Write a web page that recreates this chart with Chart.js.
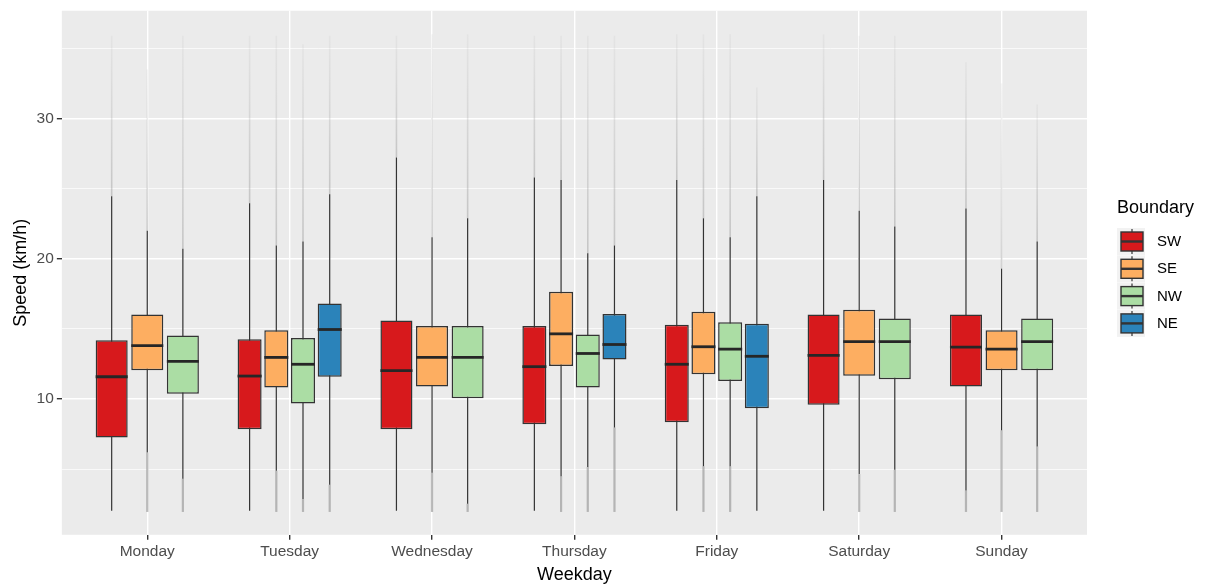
<!DOCTYPE html>
<html>
<head>
<meta charset="utf-8">
<script src="https://cdn.jsdelivr.net/npm/chart.js@4.4.1/dist/chart.umd.min.js"></script>
<style>
  html, body { margin: 0; padding: 0; background: #fff; }
</style>
</head>
<body>
<canvas id="speedChart" width="1206" height="587"></canvas>
<script>
const days = ["Monday", "Tuesday", "Wednesday", "Thursday", "Friday", "Saturday", "Sunday"];
const boundaries = ["SW", "SE", "NW", "NE"];
const fills = ["#D7191C", "#FDAE61", "#ABDDA4", "#2B83BA"];
const yTicks = [5, 10, 15, 20, 25, 30, 35];

// one row per boundary (SW, SE, NW, NE), one column per day; null = no box that day
const q1 = [
    [7.24, 7.83, 7.83, 8.19, 8.34, 9.59, 10.89],
    [12.04, 10.82, 10.89, 12.35, 11.76, 11.66, 12.04],
    [10.36, 9.67, 10.05, 10.82, 11.28, 11.40, 12.04],
    [null, 11.58, null, 12.81, 9.34, null, null]
];
const median = [
    [11.58, 11.63, 12.02, 12.30, 12.47, 13.11, 13.70],
    [13.80, 12.96, 12.96, 14.64, 13.72, 14.08, 13.55],
    [12.68, 12.47, 12.96, 13.24, 13.55, 14.08, 14.08],
    [null, 14.95, null, 13.88, 13.04, null, null]
];
const q3 = [
    [14.18, 14.26, 15.59, 15.20, 15.28, 16.02, 16.02],
    [16.02, 14.90, 15.20, 17.65, 16.22, 16.35, 14.90],
    [14.52, 14.34, 15.20, 14.59, 15.46, 15.74, 15.74],
    [null, 16.81, null, 16.05, 15.36, null, null]
];
const whiskerLow = [
    [2.02, 2.02, 2.02, 2.02, 2.02, 2.02, 3.47],
    [6.17, 4.87, 4.74, 4.49, 5.20, 4.64, 7.76],
    [4.31, 2.86, 2.53, 5.15, 5.20, 4.95, 6.61],
    [null, 3.88, null, 7.96, 2.02, null, null]
];
const whiskerHigh = [
    [24.46, 23.95, 27.22, 25.79, 25.61, 25.61, 23.57],
    [21.99, 20.94, 21.53, 25.61, 22.88, 23.42, 19.29],
    [20.71, 21.22, 22.88, 20.38, 21.53, 22.30, 21.22],
    [null, 24.59, null, 20.94, 24.46, null, null]
];
// range covered by the outlier points below / above the whiskers
const outlierLow = [
    [null, null, null, null, null, null, 1.94],
    [1.94, 1.94, 1.94, 1.94, 1.94, 1.94, 1.94],
    [1.94, 1.94, 1.94, 1.94, 1.94, 1.94, 1.94],
    [null, 1.94, null, 1.94, null, null, null]
];
const outlierHigh = [
    [35.9, 35.9, 35.9, 35.9, 36.0, 36.0, 34.0],
    [33.5, 35.9, 36.0, 35.9, 36.0, 35.9, 32.5],
    [35.9, 35.3, 36.0, 35.9, 36.0, 35.9, 31.0],
    [null, 35.9, null, 35.9, 32.2, null, null]
];

const FONT = "'Liberation Sans', Arial, sans-serif";

const datasets = boundaries.map((name, s) => ({
    label: name,
    data: days.map((d, i) => ({ x: i + 1, y: q1[s][i] === null ? null : [q1[s][i], q3[s][i]] })),
    backgroundColor: fills[s],
    borderColor: "#333333",
    borderWidth: 1.5,
    borderSkipped: false,
    skipNull: true,
    categoryPercentage: 0.75,
    barPercentage: 0.9
}));

function eachBox(chart, fn) {
    chart.data.datasets.forEach((ds, s) => {
        chart.getDatasetMeta(s).data.forEach((bar, i) => {
            if (q1[s][i] !== null) fn(bar, s, i);
        });
    });
}

const boxParts = {
    id: "boxParts",
    beforeDraw(chart) {
        const { ctx, chartArea: a } = chart;
        ctx.save();
        ctx.fillStyle = "#EBEBEB";
        ctx.fillRect(a.left, a.top, a.width, a.height);
        ctx.restore();
    },
    beforeDatasetsDraw(chart) {
        const { ctx } = chart;
        const y = chart.scales.y;
        ctx.save();
        eachBox(chart, (bar, s, i) => {
            // outliers above
            if (outlierHigh[s][i] !== null) {
                const y0 = y.getPixelForValue(whiskerHigh[s][i]), y1 = y.getPixelForValue(outlierHigh[s][i]);
                const g = ctx.createLinearGradient(0, y0, 0, y1);
                g.addColorStop(0, "rgba(140,140,140,0.4)");
                g.addColorStop(1, "rgba(160,160,160,0.1)");
                ctx.strokeStyle = g;
                ctx.lineWidth = 1.6;
                ctx.beginPath();
                ctx.moveTo(bar.x, y0);
                ctx.lineTo(bar.x, y1);
                ctx.stroke();
            }
            // outliers below
            if (outlierLow[s][i] !== null) {
                ctx.strokeStyle = "rgba(150,150,150,0.65)";
                ctx.lineWidth = 2.2;
                ctx.beginPath();
                ctx.moveTo(bar.x, y.getPixelForValue(whiskerLow[s][i]));
                ctx.lineTo(bar.x, y.getPixelForValue(outlierLow[s][i]));
                ctx.stroke();
            }
            // whisker
            ctx.strokeStyle = "#333333";
            ctx.lineWidth = 1.2;
            ctx.beginPath();
            ctx.moveTo(bar.x, y.getPixelForValue(whiskerLow[s][i]));
            ctx.lineTo(bar.x, y.getPixelForValue(whiskerHigh[s][i]));
            ctx.stroke();
        });
        ctx.restore();
    },
    afterDatasetsDraw(chart) {
        const { ctx } = chart;
        const y = chart.scales.y;
        ctx.save();
        ctx.strokeStyle = "#262626";
        ctx.lineWidth = 2.8;
        eachBox(chart, (bar, s, i) => {
            const py = y.getPixelForValue(median[s][i]);
            ctx.beginPath();
            ctx.moveTo(bar.x - bar.width / 2, py);
            ctx.lineTo(bar.x + bar.width / 2, py);
            ctx.stroke();
        });
        ctx.restore();
    },
    afterDraw(chart) {
        // legend with small boxplot keys, ggplot style
        const { ctx, chartArea: a } = chart;
        const left = a.right + 30;
        ctx.save();
        ctx.fillStyle = "#000";
        ctx.textBaseline = "middle";
        ctx.font = "18px " + FONT;
        ctx.fillText("Boundary", left, 208);
        boundaries.forEach((name, s) => {
            const top = 228 + s * 27.3, size = 27, cx = left + 15;
            ctx.fillStyle = "#F2F2F2";
            ctx.fillRect(left, top, size + 1, size);
            ctx.strokeStyle = "#333333";
            ctx.lineWidth = 1.2;
            ctx.beginPath();
            ctx.moveTo(cx, top + 1);
            ctx.lineTo(cx, top + size - 1);
            ctx.stroke();
            ctx.fillStyle = fills[s];
            ctx.fillRect(left + 4, top + 4, 22, 19);
            ctx.lineWidth = 1.4;
            ctx.strokeRect(left + 4, top + 4, 22, 19);
            ctx.lineWidth = 2.4;
            ctx.beginPath();
            ctx.moveTo(left + 4, top + 13.5);
            ctx.lineTo(left + 26, top + 13.5);
            ctx.stroke();
            ctx.fillStyle = "#000";
            ctx.font = "15px " + FONT;
            ctx.fillText(name, left + 40, top + 14);
        });
        ctx.restore();
    }
};

new Chart(document.getElementById("speedChart"), {
    type: "bar",
    data: { datasets: datasets },
    options: {
        responsive: false,
        animation: false,
        events: [],
        layout: { padding: { left: 9, right: 119, top: 6, bottom: 0 } },
        plugins: { legend: { display: false }, tooltip: { enabled: false } },
        scales: {
            x: {
                type: "linear",
                min: 0.4,
                max: 7.6,
                offset: false,
                afterBuildTicks: axis => { axis.ticks = days.map((d, i) => ({ value: i + 1 })); },
                border: { display: false },
                grid: { offset: false, color: "#FFFFFF", lineWidth: 1.4, tickColor: "#333333", tickLength: 5 },
                ticks: {
                    autoSkip: false, maxRotation: 0, padding: 3, color: "#4D4D4D",
                    font: { family: FONT, size: 15.5 },
                    callback: v => days[v - 1]
                },
                title: { display: true, text: "Weekday", color: "#000", font: { family: FONT, size: 18 }, padding: { top: 0, bottom: 1 } }
            },
            y: {
                min: 0.31,
                max: 37.68,
                afterBuildTicks: axis => { axis.ticks = yTicks.map(v => ({ value: v })); },
                border: { display: false },
                grid: {
                    color: "#FFFFFF",
                    lineWidth: c => (c.tick && c.tick.value % 10 === 0 ? 1.4 : 0.7),
                    tickColor: c => (c.tick && c.tick.value % 10 === 0 ? "#333333" : "rgba(0,0,0,0)"),
                    tickLength: 5
                },
                ticks: {
                    padding: 3, color: "#4D4D4D",
                    font: { family: FONT, size: 15.5, lineHeight: 1 },
                    callback: v => (v % 10 === 0 ? String(v) : "")
                },
                title: { display: true, text: "Speed (km/h)", color: "#000", font: { family: FONT, size: 18 }, padding: { top: 1, bottom: 2 } }
            }
        }
    },
    plugins: [boxParts]
});
</script>
</body>
</html>
